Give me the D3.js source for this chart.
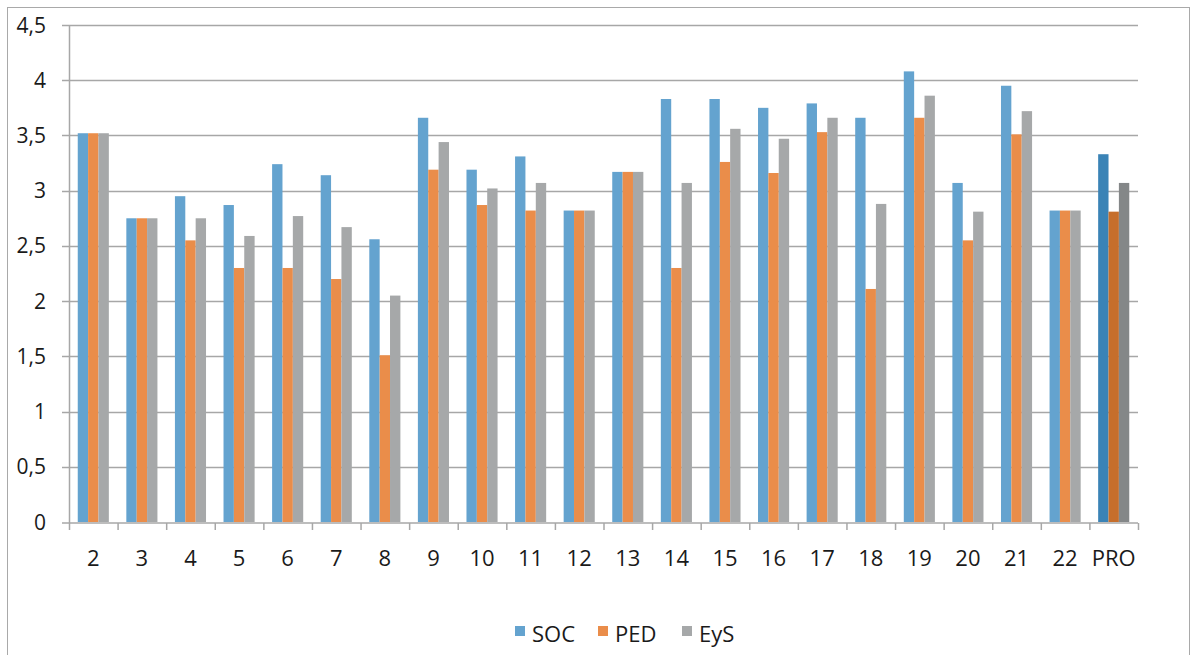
<!DOCTYPE html>
<html>
<head>
<meta charset="utf-8">
<script src="https://cdn.jsdelivr.net/npm/d3@7"></script>
<style>
  body { margin: 0; background: #fff; }
  svg { display: block; font-family: "Open Sans", "DejaVu Sans", sans-serif; }
</style>
</head>
<body>
<div id="chart"></div>
<script>
(() => {

    // data
    var categories = ["2", "3", "4", "5", "6", "7", "8", "9", "10", "11", "12", "13", "14", "15", "16", "17", "18", "19", "20", "21", "22", "PRO"];
    var seriesNames = ["SOC", "PED", "EyS"];
    var soc = [3.52, 2.75, 2.95, 2.87, 3.24, 3.14, 2.56, 3.66, 3.19, 3.31, 2.82, 3.17, 3.83, 3.83, 3.75, 3.79, 3.66, 4.08, 3.07, 3.95, 2.82, 3.33];
    var ped = [3.52, 2.75, 2.55, 2.30, 2.30, 2.20, 1.51, 3.19, 2.87, 2.82, 2.82, 3.17, 2.30, 3.26, 3.16, 3.53, 2.11, 3.66, 2.55, 3.51, 2.82, 2.81];
    var eys = [3.52, 2.75, 2.75, 2.59, 2.77, 2.67, 2.05, 3.44, 3.02, 3.07, 2.82, 3.17, 3.07, 3.56, 3.47, 3.66, 2.88, 3.86, 2.81, 3.72, 2.82, 3.07];
    var yTicks = [0, 0.5, 1, 1.5, 2, 2.5, 3, 3.5, 4, 4.5];

    var colors = ["#64a3cf", "#ea8d4a", "#a6a8a9"];
    var proColors = ["#3a83b6", "#c66e2b", "#848788"];

    var W = 1198, H = 655;
    var margin = { top: 25, right: 60, bottom: 133, left: 69 };
    var width = 1138 - margin.left,
        height = 522 - margin.top;

    var svg = d3.select("#chart")
        .append("svg")
        .attr("width", W)
        .attr("height", H);

    // outer frame
    svg.append("rect")
        .attr("x", 7.5).attr("y", 7.5)
        .attr("width", 1182).attr("height", 660)
        .attr("fill", "none")
        .attr("stroke", "#a9a9a9")
        .attr("stroke-width", 1);

    var g = svg.append("g")
        .attr("transform", "translate(" + margin.left + "," + margin.top + ")");

    var x = d3.scaleBand()
        .domain(categories)
        .range([0, width])
        .paddingInner(0.36)
        .paddingOuter(0.18);

    var xs = d3.scaleBand()
        .domain(seriesNames)
        .range([0, x.bandwidth()]);

    var y = d3.scaleLinear()
        .domain([0, 4.5])
        .range([height, 0]);

    // gridlines + y labels
    g.append("g")
        .selectAll("line")
        .data(yTicks.filter(d => d > 0))
        .enter()
        .append("line")
        .attr("x1", -7)
        .attr("x2", width)
        .attr("y1", d => Math.round(y(d)) + 0.5)
        .attr("y2", d => Math.round(y(d)) + 0.5)
        .attr("stroke", "#a7a7a7")
        .attr("stroke-width", 1.5);

    g.append("g")
        .selectAll("text")
        .data(yTicks)
        .enter()
        .append("text")
        .attr("x", -23)
        .attr("y", d => y(d))
        .attr("dy", "0.36em")
        .attr("text-anchor", "end")
        .attr("font-size", 21)
        .attr("fill", "#1a1a1a")
        .text(d => d3.format(".1~f")(d).replace(".", ","));

    // bars
    var seriesData = [soc, ped, eys];
    var groups = g.append("g")
        .selectAll("g")
        .data(categories)
        .enter()
        .append("g")
        .attr("transform", d => "translate(" + x(d) + ",0)");

    groups.selectAll("rect")
        .data((c, i) => seriesNames.map((s, k) => ({ series: s, k: k, cat: c, value: seriesData[k][i] })))
        .enter()
        .append("rect")
        .attr("x", d => xs(d.series))
        .attr("width", xs.bandwidth())
        .attr("y", d => y(d.value))
        .attr("height", d => height - y(d.value))
        .attr("fill", d => d.cat === "PRO" ? proColors[d.k] : colors[d.k]);

    // axes lines
    g.append("line")
        .attr("x1", 0.5).attr("x2", 0.5)
        .attr("y1", 0).attr("y2", height + 1)
        .attr("stroke", "#a7a7a7").attr("stroke-width", 1.5);

    g.append("line")
        .attr("x1", -7).attr("x2", width)
        .attr("y1", height + 1).attr("y2", height + 1)
        .attr("stroke", "#a7a7a7").attr("stroke-width", 1.5);

    // x ticks at category boundaries
    var step = x.step();
    g.append("g")
        .selectAll("line")
        .data(d3.range(categories.length + 1))
        .enter()
        .append("line")
        .attr("x1", i => i * step + 0.5)
        .attr("x2", i => i * step + 0.5)
        .attr("y1", height + 1)
        .attr("y2", height + 8)
        .attr("stroke", "#a7a7a7").attr("stroke-width", 1.5);

    g.append("g")
        .selectAll("text")
        .data(categories)
        .enter()
        .append("text")
        .attr("x", d => x(d) + x.bandwidth() / 2)
        .attr("y", height + 36)
        .attr("dy", "0.36em")
        .attr("text-anchor", "middle")
        .attr("font-size", 22)
        .attr("fill", "#1a1a1a")
        .text(d => d);

    // legend
    var legendX = [515, 598, 682];
    var legend = svg.append("g")
        .selectAll("g")
        .data(seriesNames)
        .enter()
        .append("g")
        .attr("transform", (d, i) => "translate(" + legendX[i] + ",626)");

    legend.append("rect")
        .attr("width", 10).attr("height", 10)
        .attr("fill", (d, i) => colors[i]);

    legend.append("text")
        .attr("x", 17)
        .attr("y", 8)
        .attr("dy", "0.36em")
        .attr("font-size", 22)
        .attr("fill", "#1a1a1a")
        .text(d => d);

})();
</script>
</body>
</html>
